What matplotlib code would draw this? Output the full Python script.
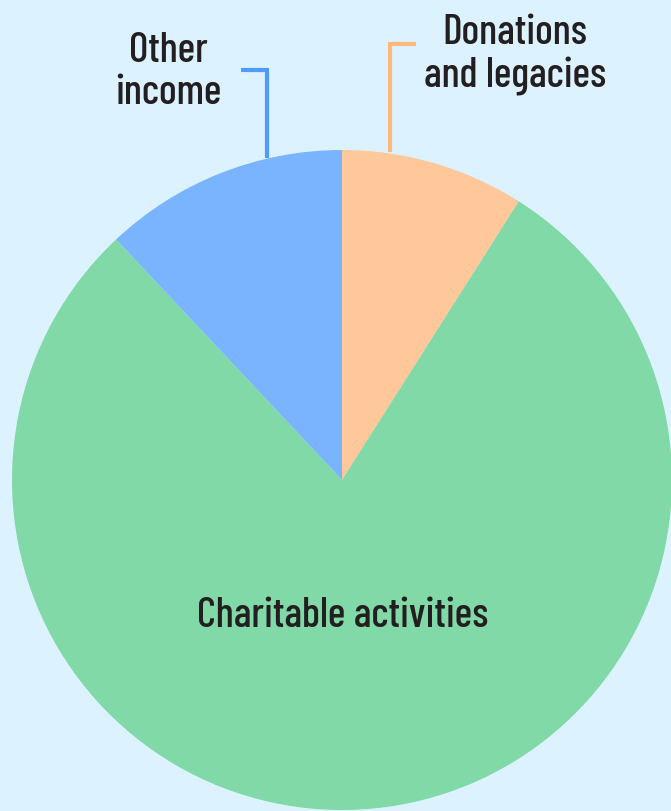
import matplotlib
matplotlib.use("Agg")
import matplotlib.pyplot as plt

# income shares (percent), clockwise from the top
labels = ['Donations\nand legacies', 'Charitable activities', 'Other\nincome']
values = [9, 79, 12]
colors = ['#ffc89a', '#80d9a7', '#7ab4ff']
line_colors = ['#ffb97c', None, '#4d9bff']

bg = '#dcf3ff'
txt = '#231f20'
plt.rcParams['font.family'] = ['Barlow Condensed', 'DejaVu Sans']
plt.rcParams['font.weight'] = 500

fig = plt.figure(figsize=(6.71, 8.11), dpi=100, facecolor=bg)
ax = fig.add_axes([12 / 671, 1 / 811, 660 / 671, 660 / 811])
ax.set_facecolor(bg)

ax.pie(values, colors=colors, startangle=90, counterclock=False,
       radius=1, wedgeprops=dict(linewidth=0))
ax.set_xlim(-1, 1)
ax.set_ylim(-1, 1)
ax.axis('off')

# label inside the big slice
ax.text(0.003, -0.412, labels[1], ha='center', va='center',
        fontsize=30, color=txt)

# outside labels with elbow leader lines
ax.plot([0.145, 0.145, 0.224], [0.994, 1.321, 1.321], color=line_colors[0],
        lw=3, clip_on=False, solid_capstyle='butt', solid_joinstyle='miter')
ax.text(0.524, 1.288, labels[0], ha='center', va='center', fontsize=30,
        color=txt, linespacing=1.15, clip_on=False)

ax.plot([-0.227, -0.227, -0.306], [0.976, 1.242, 1.242], color=line_colors[2],
        lw=3, clip_on=False, solid_capstyle='butt', solid_joinstyle='miter')
ax.text(-0.527, 1.237, labels[2], ha='center', va='center', fontsize=30,
        color=txt, linespacing=1.15, clip_on=False)

fig.savefig('out.png', dpi=100, facecolor=bg)
